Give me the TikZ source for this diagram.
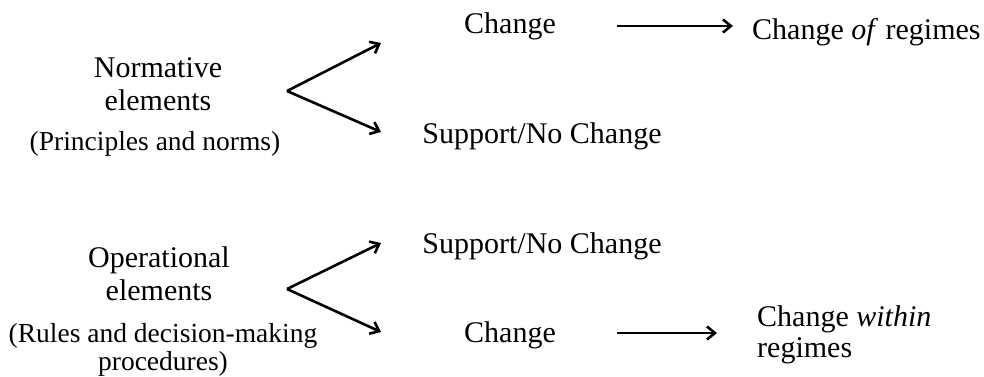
\documentclass[tikz,border=0pt]{standalone}
\usepackage{fontspec}
\setmainfont{Liberation Serif}
\usetikzlibrary{arrows.meta}
\begin{document}
\begin{tikzpicture}[x=1pt,y=-1pt,
  lbl/.style={inner sep=0pt,anchor=base,font=\fontsize{30}{34}\selectfont},
  sub/.style={inner sep=0pt,anchor=base,font=\fontsize{27.5}{31}\selectfont},
  arr/.style={line width=2.6pt,-{Straight Barb[length=8pt,width=13pt,line width=2.6pt]}}]
\useasboundingbox (0,0) rectangle (984,376);
% top group
\node[lbl] (n1) at (158,77) {Normative};
\node[lbl] (n2) at (158,110) {elements};
\node[sub] (n3) at (155,150) {(Principles and norms)};
\coordinate (f1) at (287,91);
\coordinate (e1) at (381,43);
\coordinate (e2) at (381,132);
\node[lbl] (c1) at (510,33) {Change};
\node[lbl] (s1) at (542,143) {Support/No Change};
\coordinate (a1s) at (617,26);
\coordinate (a1e) at (733,26);
\node[lbl,anchor=base west] (r1) at (752,39) {Change \textit{of} regimes};
\draw[arr] (f1) -- (e1);
\draw[arr] (f1) -- (e2);
\draw[arr] (a1s) -- (a1e);
% bottom group
\node[lbl] (o1) at (159,267) {Operational};
\node[lbl] (o2) at (159,300) {elements};
\node[sub] (o3) at (163,342) {(Rules and decision-making};
\node[sub] (o4) at (163,370) {procedures)};
\coordinate (f2) at (287,289);
\coordinate (e3) at (381,243);
\coordinate (e4) at (381,332);
\node[lbl] (s2) at (542,253) {Support/No Change};
\node[lbl] (c2) at (510,342) {Change};
\coordinate (a2s) at (617,333);
\coordinate (a2e) at (717,333);
\node[lbl,anchor=base west] (r2) at (757,326) {Change \textit{within}};
\node[lbl,anchor=base west] (r3) at (757,357) {regimes};
\draw[arr] (f2) -- (e3);
\draw[arr] (f2) -- (e4);
\draw[arr] (a2s) -- (a2e);
\end{tikzpicture}
\end{document}
